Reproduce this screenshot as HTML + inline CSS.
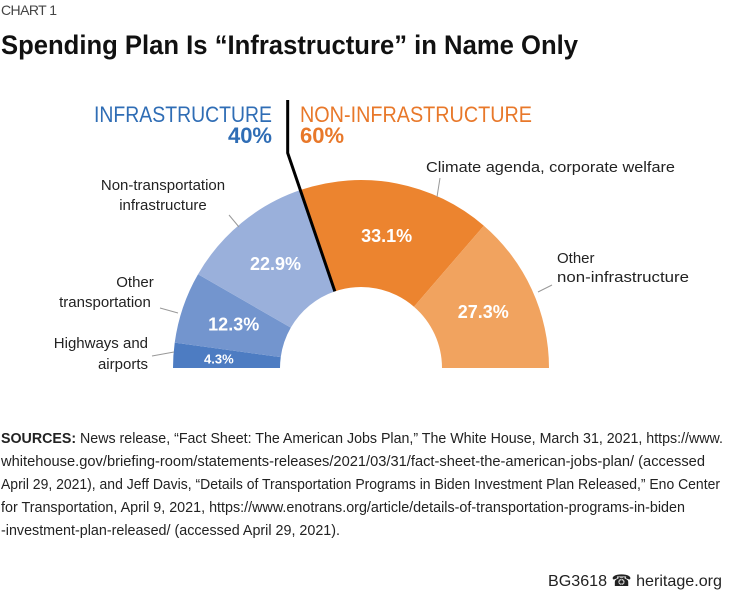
<!DOCTYPE html>
<html><head><meta charset="utf-8"><style>
html,body{margin:0;padding:0;background:#fff}
svg{display:block;font-family:"Liberation Sans Narrow","Liberation Sans",sans-serif}
</style></head><body>
<svg id="chart" width="734" height="590" viewBox="0 0 734 590">
<text x="1" y="15" font-size="14" fill="#444" textLength="56">CHART 1</text>
<text x="1" y="54" font-size="27" font-weight="bold" fill="#111" textLength="577" lengthAdjust="spacingAndGlyphs">Spending Plan Is “Infrastructure” in Name Only</text>
<text x="272" y="122" text-anchor="end" font-size="22" fill="#2f6db5" textLength="178" lengthAdjust="spacingAndGlyphs">INFRASTRUCTURE</text>
<text x="272" y="143" text-anchor="end" font-size="22" font-weight="bold" fill="#2f6db5">40%</text>
<text x="300" y="122" font-size="22" fill="#e8782a" textLength="232" lengthAdjust="spacingAndGlyphs">NON-INFRASTRUCTURE</text>
<text x="300" y="143" font-size="22" font-weight="bold" fill="#e8782a">60%</text>
<g id="slices"></g>
<g id="vals"></g>
<polyline id="divider" fill="none" stroke="#000" stroke-width="3"/>
<g font-size="15" fill="#222">
<text x="163" y="190" text-anchor="middle">Non-transportation</text>
<text x="163" y="210" text-anchor="middle">infrastructure</text>
<text x="135" y="287" text-anchor="middle">Other</text>
<text x="105" y="307" text-anchor="middle">transportation</text>
<text x="148" y="348" text-anchor="end">Highways and</text>
<text x="148" y="369" text-anchor="end">airports</text>
<text x="426" y="172" textLength="249" lengthAdjust="spacingAndGlyphs">Climate agenda, corporate welfare</text>
<text x="557" y="263">Other</text>
<text x="557" y="282" textLength="132" lengthAdjust="spacingAndGlyphs">non-infrastructure</text>
</g>
<g stroke="#999" stroke-width="1">
<line x1="229" y1="215" x2="239" y2="227"/>
<line x1="160" y1="308" x2="178" y2="313"/>
<line x1="152" y1="356" x2="174" y2="352"/>
<line x1="440" y1="178" x2="437" y2="197"/>
<line x1="538" y1="292" x2="552" y2="285"/>
</g>
<g font-size="14.5" fill="#222">
<text x="1" y="443" textLength="722" lengthAdjust="spacingAndGlyphs"><tspan font-weight="bold">SOURCES:</tspan> News release, “Fact Sheet: The American Jobs Plan,” The White House, March 31, 2021, https://www.</text>
<text x="1" y="466" textLength="704" lengthAdjust="spacingAndGlyphs">whitehouse.gov/briefing-room/statements-releases/2021/03/31/fact-sheet-the-american-jobs-plan/ (accessed</text>
<text x="1" y="489" textLength="719" lengthAdjust="spacingAndGlyphs">April 29, 2021), and Jeff Davis, “Details of Transportation Programs in Biden Investment Plan Released,” Eno Center</text>
<text x="1" y="512" textLength="684" lengthAdjust="spacingAndGlyphs">for Transportation, April 9, 2021, https://www.enotrans.org/article/details-of-transportation-programs-in-biden</text>
<text x="1" y="535" textLength="339" lengthAdjust="spacingAndGlyphs">-investment-plan-released/ (accessed April 29, 2021).</text>
</g>
<text x="722" y="586" text-anchor="end" font-size="16" fill="#222" textLength="174" lengthAdjust="spacingAndGlyphs">BG3618  ☎  heritage.org</text>
</svg>
<script>
const categories=["Highways and airports","Other transportation","Non-transportation infrastructure","Climate agenda, corporate welfare","Other non-infrastructure"];
const values=[4.3,12.3,22.9,33.1,27.3];
const valueLabels=["4.3%","12.3%","22.9%","33.1%","27.3%"];
const colors=["#4d7cc2","#7395ce","#9ab0db","#ec842f","#f1a35f"];
const cx=361,cy=368,R=188,r=81;
const total=values.reduce((a,b)=>a+b,0);
function ang(v){return Math.PI-(v/total)*Math.PI;}
function pt(a,rad){return [cx+rad*Math.cos(a),cy-rad*Math.sin(a)];}
const ns="http://www.w3.org/2000/svg";
const sg=document.getElementById('slices'),vg=document.getElementById('vals');
let cum=0;
values.forEach((v,i)=>{
 const a0=ang(cum),a1=ang(cum+v);
 const p1=pt(a0,R),p2=pt(a1,R),p3=pt(a1,r),p4=pt(a0,r);
 const p=document.createElementNS(ns,'path');
 p.setAttribute('d',`M${p1}A${R},${R} 0 0 1 ${p2}L${p3}A${r},${r} 0 0 0 ${p4}Z`);
 p.setAttribute('fill',colors[i]);
 
 
 sg.appendChild(p);
 const am=ang(cum+v/2);const rm=i===0?(R+r)/2+8:(R+r)/2;
 const c=pt(am,rm);
 const t=document.createElementNS(ns,'text');
 t.setAttribute('x',c[0]);t.setAttribute('y',c[1]+(i===0?5:6));
 t.setAttribute('text-anchor','middle');t.setAttribute('fill','#fff');
 t.setAttribute('font-weight','bold');t.setAttribute('font-size',i===0?13:18);
 t.textContent=valueLabels[i];
 
 
 vg.appendChild(t);
 cum+=v;
});
const infra=values[0]+values[1]+values[2];
const ab=ang(infra);const pin=pt(ab,r);const pout=pt(ab,R);
const slope=(pout[0]-pin[0])/(pout[1]-pin[1]);
const yb=153,xb=pin[0]+(yb-pin[1])*slope;
document.getElementById('divider').setAttribute('points',`${xb},100 ${xb},${yb} ${pin[0]},${pin[1]}`);
</script>
</body></html>
